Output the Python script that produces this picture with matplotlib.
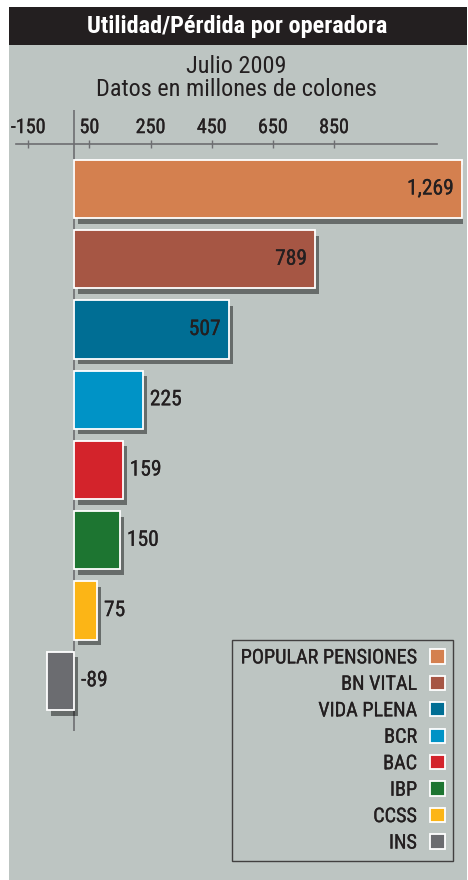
import matplotlib
matplotlib.use("Agg")
from matplotlib import pyplot as plt
from matplotlib import patheffects as pe
from matplotlib.patches import Rectangle, Patch

# data
operadoras = ["POPULAR PENSIONES", "BN VITAL", "VIDA PLENA", "BCR",
              "BAC", "IBP", "CCSS", "INS"]
utilidad = [1269, 789, 507, 225, 159, 150, 75, -89]
colores = ["#d4804f", "#a65644", "#006e94", "#0093c6",
           "#d3232b", "#1d7531", "#fcb516", "#6b6c70"]
ticks = [-150, 50, 250, 450, 650, 850]

FONT = ["Roboto Condensed", "Liberation Sans Narrow", "Roboto", "DejaVu Sans"]
plt.rcParams['font.family'] = FONT
TXT = "#231f20"
BG = "#bdc5c2"
# slightly heavier text, like the medium condensed face of the original
thick = [pe.withStroke(linewidth=0.2, foreground=TXT)]

W, H = 468, 880
fig = plt.figure(figsize=(W / 100, H / 100), dpi=100)
fig.patch.set_facecolor("white")

# gray panel and black title bar
fig.patches.append(Rectangle((9 / W, 0), 458 / W, 1 - 7 / H, transform=fig.transFigure,
                             facecolor=BG, edgecolor="none", zorder=-2))
fig.patches.append(Rectangle((9 / W, 1 - 45 / H), 458 / W, 38 / H, transform=fig.transFigure,
                             facecolor="#231f20", edgecolor="none", zorder=-1))
fig.text(237 / W, 1 - 27 / H, "Utilidad/Pérdida por operadora", color="white",
         fontsize=17.5, fontweight="bold", ha="center", va="center")
fig.text(236 / W, 1 - 78 / H, "Julio 2009\nDatos en millones de colones", color=TXT,
         fontsize=17.5, ha="center", va="center", linespacing=1.0)

ax = fig.add_axes([16 / W, 20 / H, 447 / W, (H - 144 - 20) / H])
ax.set_facecolor("none")

y = list(range(len(operadoras)))
bars = ax.barh(y, utilidad, height=0.83, color=colores, edgecolor="white",
               linewidth=1.3, zorder=3)
for b in bars:
    b.set_path_effects([pe.SimplePatchShadow(offset=(3, -4), shadow_rgbFace="black",
                                             alpha=0.45), pe.Normal()])

for yi, v in zip(y, utilidad):
    txt = "{:,}".format(v)
    if v > 400:
        ax.annotate(txt, (v, yi), xytext=(-6, 0), textcoords="offset points",
                    ha="right", va="center", fontsize=15.5, color=TXT, zorder=4,
                    path_effects=thick)
    else:
        ax.annotate(txt, (max(v, 0), yi), xytext=(5, 0), textcoords="offset points",
                    ha="left", va="center", fontsize=15.5, color=TXT, zorder=4,
                    path_effects=thick)

ax.set_xlim(-190, 1272)
ax.set_ylim(9.55, -0.64)

# zero line
ax.vlines(0, -1.13, 7.72, color="#6d6e71", linewidth=1.2, clip_on=False, zorder=2)

# top axis
for s in ["left", "right", "bottom"]:
    ax.spines[s].set_visible(False)
ax.spines["top"].set_color("#6d6e71")
ax.spines["top"].set_linewidth(1.2)
ax.spines["top"].set_bounds(-190, 1187)
ax.xaxis.tick_top()
ax.set_xticks(ticks)
ax.set_xticklabels([str(t) for t in ticks])
ax.tick_params(axis="x", direction="inout", length=6, width=1, color="#6d6e71",
               labelsize=14.5, labelcolor=TXT, pad=2)
for lbl in ax.get_xticklabels():
    lbl.set_path_effects(thick)
ax.set_yticks([])

handles = [Patch(facecolor=c, edgecolor="white", linewidth=1.3) for c in colores]
leg = ax.legend(handles, operadoras, loc="lower right",
                bbox_to_anchor=(453 / W, 1 - 861 / H), bbox_transform=fig.transFigure,
                borderaxespad=0, markerfirst=False, frameon=True, fancybox=False,
                fontsize=14.5, handlelength=0.72, handleheight=0.72,
                handletextpad=0.65, labelspacing=0.37, borderpad=0.42)
leg.get_frame().set_edgecolor("#231f20")
leg.get_frame().set_facecolor("none")
leg.get_frame().set_linewidth(1)
for t in leg.get_texts():
    t.set_ha("right")
    t.set_color(TXT)
    t.set_path_effects(thick)
leg._legend_box.align = "right"

fig.savefig("out.png", dpi=100, facecolor=fig.get_facecolor())
